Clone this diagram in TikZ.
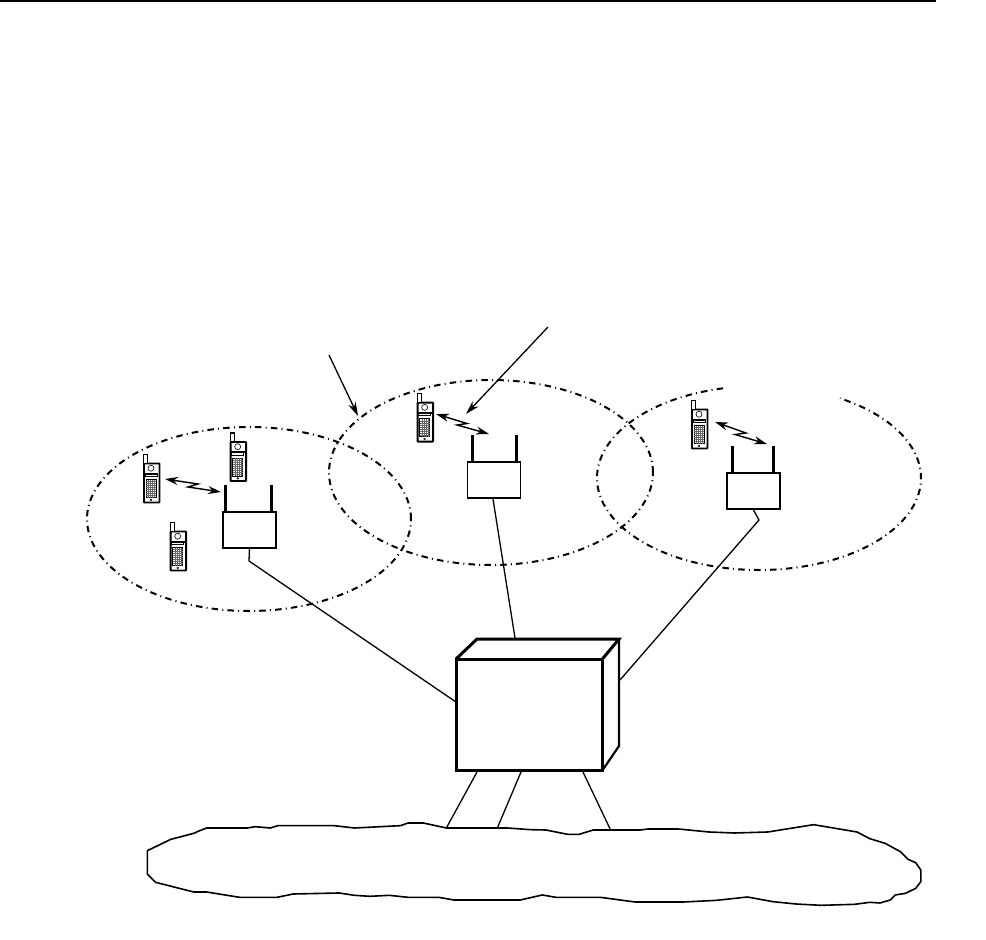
\documentclass[tikz,border=0pt]{standalone}
\usetikzlibrary{arrows.meta}
\tikzset{
  x=1pt,y=-1pt,
  cell/.style={dash pattern=on 6.5pt off 4.2pt on 1pt off 4.2pt,line width=2pt},
  basebox/.style={draw,line width=1.9pt,fill=white,inner sep=0pt,minimum width=53pt,minimum height=36pt},
  phonebody/.style={draw,line width=1.8pt,rounded corners=0.5pt,fill=white,inner sep=0pt,minimum width=15.5pt,minimum height=39pt},
  mast/.style={line width=3pt},
  wire/.style={line width=1.3pt},
  pointer/.style={line width=1.3pt,-{Stealth[length=14pt,width=8pt]}},
  radio/.style={line width=1.4pt,{Stealth[length=13pt,width=8pt]}-{Stealth[length=13pt,width=8pt]}},
  boxedge/.style={line width=3pt,line join=miter},
  boxedgeb/.style={line width=2.2pt,line join=miter},
}
\newcommand{\handset}[3]{% name, x-left, y-top of body
  \node[phonebody,anchor=north west] (#1) at (#2,#3) {};
  \begin{scope}[shift={(#2,#3)}]
    \draw[line width=1.2pt,fill=white] (.7,0) -- (.7,-8) -- (4.4,-8) -- (4.4,0);
    \draw[line width=.6pt] (8,5.7) circle (3);
    \fill (1,10.4) rectangle (15,12);
    \draw[line width=.8pt] (2,11) rectangle (14,14);
    \draw[line width=.9pt] (3,17) rectangle (13,35);
    \foreach \g in {5,7,9,11} \draw[line width=.35pt,black!60] (\g,17) -- (\g,35);
    \foreach \g in {19,21,23,25,27,29,31,33} \draw[line width=.35pt,black!60] (3,\g) -- (13,\g);
    \draw[line width=.5pt] (8,37.3) circle (.9);
  \end{scope}
}
\begin{document}
\begin{tikzpicture}
\useasboundingbox (0,0) rectangle (986,940);
\fill[white] (0,0) rectangle (986,940);
% header rule
\coordinate (ruleL) at (0,1); \coordinate (ruleR) at (936,1);
\draw[line width=1.5pt] (ruleL) -- (ruleR);
% cells
\draw[cell] plot[domain=0:360,samples=240] ({249+162*cos(\x)},{519-92*sin(\x)});
\draw[cell] plot[domain=0:360,samples=240] ({491+162*cos(\x)},{472.5-92.5*sin(\x)});
\draw[cell] plot[domain=102.8:420,samples=240] ({759+162*cos(\x)},{478-92*sin(\x)});
% base stations
\node[basebox,anchor=north west] (bsA) at (222,511) {};
\node[basebox,anchor=north west] (bsB) at (466.5,461) {};
\node[basebox,anchor=north west] (bsC) at (726,472) {};
\draw[mast] (225.5,511) -- (225.5,485);
\draw[mast] (271,511) -- (271,485);
\draw[mast] (472,461) -- (472,435);
\draw[mast] (516,461) -- (516,435);
\draw[mast] (732.5,472) -- (732.5,446);
\draw[mast] (773,472) -- (773,446);
% handsets
\handset{phA}{143}{462.5}
\handset{phB}{229.7}{441}
\handset{phC}{169.7}{530.5}
\handset{phD}{416.7}{401.7}
\handset{phE}{691}{408.5}
% radio links
\coordinate (rA1) at (165,479); \coordinate (rA2) at (221,492);
\coordinate (rB1) at (436,414); \coordinate (rB2) at (489,434);
\coordinate (rC1) at (715,422); \coordinate (rC2) at (767,444);
\draw[radio] (rA1) -- (198,484) -- (188,487) -- (rA2);
\draw[radio] (rB1) -- (467,423.5) -- (457,425) -- (rB2);
\draw[radio] (rC1) -- (746,433) -- (735,434.5) -- (rC2);
% pointers
\coordinate (pA1) at (329,355); \coordinate (pA2) at (358,416);
\coordinate (pB1) at (548,327); \coordinate (pB2) at (466,414);
\draw[pointer] (pA1) -- (pA2);
\draw[pointer] (pB1) -- (pB2);
% switch box
\node[draw=none,inner sep=0pt,minimum width=146pt,minimum height=111pt,anchor=north west] (msc) at (456,659) {};
\draw[boxedge] (msc.north west) rectangle (msc.south east);
\draw[boxedge] (msc.north west) -- (477,639) -- (619,639) -- (msc.north east);
\draw[boxedgeb] (619,639) -- (619,746) -- (msc.south east);
% backhaul
\coordinate (jA) at (249,561); \coordinate (jC) at (759,520);
\draw[wire] (bsA.south) -- (jA) -- (456,702);
\draw[wire] (493,499) -- (515,638);
\draw[wire] (bsC.south) -- (jC) -- (620,680);
% network cloud
\begin{scope}[shift={(130,760)},xscale=0.5102,yscale=0.3333]
\draw[line width=1.6pt,line join=round] (34,272) -- (34,342) -- (50,367) -- (125,396) -- (150,396) -- (215,412) -- (288,412) -- (320,402) -- (410,399) -- (440,406) -- (470,409) -- (508,406) -- (545,412) -- (605,412) -- (635,420) -- (765,420) -- (808,405) -- (835,412) -- (922,412) -- (990,426) -- (1085,426) -- (1150,421) -- (1210,411) -- (1260,425) -- (1305,432) -- (1355,436) -- (1420,433) -- (1450,427) -- (1470,429) -- (1490,420) -- (1500,405) -- (1520,400) -- (1540,385) -- (1550,365) -- (1550,330) -- (1540,308) -- (1525,298) -- (1510,275) -- (1480,250) -- (1450,236) -- (1425,216) -- (1340,194) -- (1250,216) -- (1185,219) -- (1135,216) -- (1075,207) -- (1015,207) -- (1000,210) -- (908,210) -- (880,223) -- (858,223) -- (815,210) -- (785,209) -- (740,204) -- (620,204) -- (575,189) -- (545,189) -- (530,197) -- (440,204) -- (400,197) -- (290,197) -- (275,204) -- (245,200) -- (230,204) -- (150,204) -- (135,213) -- (125,220) -- (80,238) -- cycle;
\coordinate (nA) at (620,204); \coordinate (nB) at (720,204); \coordinate (nC) at (942,210);
\end{scope}
\coordinate (sA) at (477,772); \coordinate (sB) at (521,772); \coordinate (sC) at (583,772);
\draw[wire] (sA) -- (nA);
\draw[wire] (sB) -- (nB);
\draw[wire] (sC) -- (nC);
\end{tikzpicture}
\end{document}
